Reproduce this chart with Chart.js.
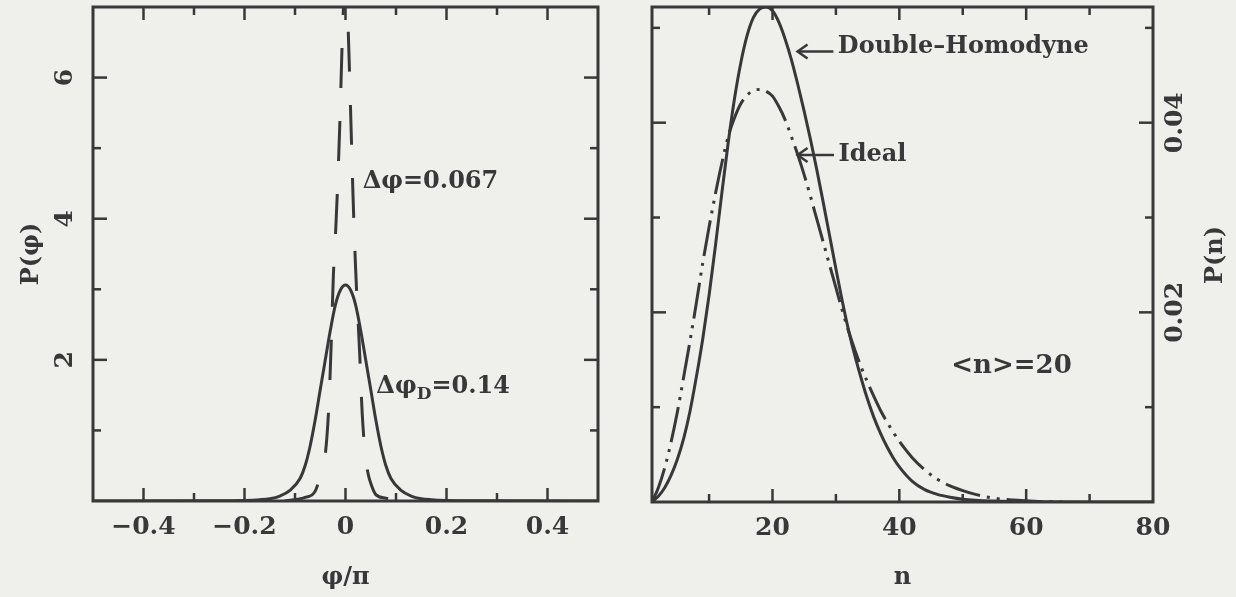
<!DOCTYPE html>
<html>
<head>
<meta charset="utf-8">
<script src="https://cdn.jsdelivr.net/npm/chart.js@4"></script>
<style>
  html, body { margin: 0; padding: 0; background: #efefec; }
  #wrap { position: relative; width: 1236px; height: 597px; overflow: hidden; }
  canvas { position: absolute; top: 0; }
  #left { left: 0; }
  #right { left: 620px; }
</style>
</head>
<body>
<div id="wrap">
  <canvas id="left" width="620" height="597"></canvas>
  <canvas id="right" width="616" height="597"></canvas>
</div>
<script>
// ---- left panel: P(phi) ----
var phiDouble = [-0.5, -0.25, -0.2, -0.17, -0.15, -0.13, -0.11, -0.09, -0.08, -0.07, -0.06, -0.05, -0.04, -0.03, -0.02, -0.01, 0,
                 0.01, 0.02, 0.03, 0.04, 0.05, 0.06, 0.07, 0.08, 0.09, 0.11, 0.13, 0.15, 0.17, 0.2, 0.25, 0.5];
var pPhiDouble = [0, 0.002, 0.008, 0.018, 0.032, 0.07, 0.15, 0.32, 0.5, 0.78, 1.15, 1.58, 2.0, 2.42, 2.78, 2.99, 3.06,
                  2.99, 2.78, 2.42, 2.0, 1.58, 1.15, 0.78, 0.5, 0.32, 0.15, 0.07, 0.032, 0.018, 0.008, 0.002, 0];

var phiIdeal = [-0.12, -0.1, -0.08, -0.06, -0.05, -0.04, -0.033, -0.028, -0.024, -0.02, -0.016, -0.011, -0.007, -0.003, 0,
                0.003, 0.007, 0.011, 0.015, 0.02, 0.028, 0.033, 0.04, 0.045, 0.05, 0.06, 0.08, 0.1, 0.12];
var pPhiIdeal = [0, 0.02, 0.05, 0.14, 0.36, 0.66, 1.35, 2.3, 3.2, 3.75, 4.4, 5.4, 6.4, 7.2, 7.8,
                 7.2, 6.3, 5.3, 4.3, 3.3, 2.1, 1.25, 0.6, 0.38, 0.25, 0.09, 0.04, 0.02, 0];

var phiTicks = [-0.4, -0.2, 0, 0.2, 0.4];
var phiMinor = [-0.3, -0.1, 0.1, 0.3];
var pPhiTicks = [2, 4, 6];
var pPhiMinor = [1, 3, 5];

// ---- right panel: P(n) ----
var nDouble = [1, 2, 3, 4, 5, 6, 7, 8, 9, 10, 11, 12, 13, 14, 15, 16, 17, 18, 19, 20,
               21, 22, 23, 24, 25, 26, 27, 28, 29, 30, 31, 32, 33, 34, 35, 36, 37, 38, 39, 40,
               42, 44, 46, 48, 50, 55, 60, 70, 80];
var pnDouble = [0, 0.0006, 0.0015, 0.0028, 0.0045, 0.0067, 0.0096, 0.0132, 0.0172, 0.0218,
                0.0270, 0.0325, 0.0378, 0.0425, 0.0463, 0.0492, 0.0511, 0.0520, 0.0522, 0.0518,
                0.0506, 0.0488, 0.0466, 0.0440, 0.0412, 0.0382, 0.0350, 0.0316, 0.0281, 0.0246,
                0.0212, 0.0181, 0.0154, 0.0130, 0.0108, 0.0089, 0.0073, 0.0059, 0.0047, 0.0037,
                0.0022, 0.0013, 0.0008, 0.0005, 0.0003, 0.0001, 0.00003, 0, 0];

var nIdeal = [1, 2, 3, 4, 5, 6, 7, 8, 9, 10, 11, 12, 13, 14, 15, 16, 17, 18, 19, 20,
              21, 22, 23, 24, 25, 26, 27, 28, 29, 30, 31, 32, 33, 34, 35, 36, 37, 38, 39, 40,
              42, 44, 46, 48, 50, 52, 55, 58, 62, 66];
var pnIdeal = [0, 0.0015, 0.0036, 0.0063, 0.0095, 0.0132, 0.0170, 0.0210, 0.0252, 0.0290,
               0.0325, 0.0357, 0.0385, 0.0405, 0.0420, 0.0429, 0.0434, 0.0435, 0.0433, 0.0428,
               0.0417, 0.0403, 0.0385, 0.0366, 0.0345, 0.0322, 0.0298, 0.0274, 0.0250, 0.0226,
               0.0202, 0.0180, 0.0160, 0.0142, 0.0126, 0.0111, 0.0097, 0.0085, 0.0074, 0.0064,
               0.0047, 0.0034, 0.0024, 0.0017, 0.0012, 0.0008, 0.0004, 0.0002, 0.00005, 0];

var nTicks = [20, 40, 60, 80];
var nMinor = [10, 30, 50, 70];
var pnTicks = [0.02, 0.04];
var pnMinor = [0.01, 0.03, 0.05];

var ink = '#383838';
var serif = "'DejaVu Serif', serif";
Chart.defaults.font.family = serif;
Chart.defaults.font.weight = 'bold';
Chart.defaults.color = ink;

function pts(xs, ys) {
  return xs.map(function (x, i) { return { x: x, y: ys[i] }; });
}
function fmt(v) {
  return v < 0 ? '\u2212' + String(-v) : String(v);
}
// fixed scale box sizes so the plot frames land where the original ones are
function fit(w, h) {
  return function (s) {
    if (w !== null) s.width = w;
    if (h !== null) s.height = h;
    s.paddingTop = 0; s.paddingBottom = 0; s.paddingLeft = 0; s.paddingRight = 0;
  };
}
function useTicks(vals) {
  return function (s) { s.ticks = vals.map(function (v) { return { value: v }; }); };
}

// frame plus inward ticks on all four sides
var frameTicks = {
  id: 'frameTicks',
  afterDatasetsDraw: function (chart, args, o) {
    var a = chart.chartArea, ctx = chart.ctx;
    var sx = chart.scales.x, sy = chart.scales.y;
    ctx.save();
    ctx.strokeStyle = ink;
    ctx.lineWidth = 3;
    ctx.strokeRect(a.left, a.top, a.right - a.left, a.bottom - a.top);
    ctx.lineWidth = 2.5;
    function seg(x1, y1, x2, y2) { ctx.beginPath(); ctx.moveTo(x1, y1); ctx.lineTo(x2, y2); ctx.stroke(); }
    function xt(vals, len) {
      vals.forEach(function (v) {
        var x = sx.getPixelForValue(v);
        seg(x, a.bottom, x, a.bottom - len);
        seg(x, a.top, x, a.top + len);
      });
    }
    function yt(vals, len) {
      vals.forEach(function (v) {
        var y = sy.getPixelForValue(v);
        seg(a.left, y, a.left + len, y);
        seg(a.right, y, a.right - len, y);
      });
    }
    xt(o.xMajor, 13); xt(o.xMinor, 8);
    yt(o.yMajor, 14); yt(o.yMinor, 8);
    ctx.restore();
  }
};

// text labels and arrows inside the plots
var notes = {
  id: 'notes',
  afterDraw: function (chart, args, o) {
    var ctx = chart.ctx, sx = chart.scales.x, sy = chart.scales.y;
    ctx.save();
    ctx.fillStyle = ink;
    ctx.strokeStyle = ink;
    ctx.textBaseline = 'middle';
    ctx.textAlign = 'left';
    (o.items || []).forEach(function (it) {
      var x = sx.getPixelForValue(it.x), y = sy.getPixelForValue(it.y);
      var main = 'bold ' + it.size + 'px ' + serif;
      ctx.font = main;
      ctx.fillText(it.text, x, y);
      var w = ctx.measureText(it.text).width;
      if (it.sub) {
        ctx.font = 'bold ' + Math.round(it.size * 0.72) + 'px ' + serif;
        ctx.fillText(it.sub, x + w, y + it.size * 0.32);
        w += ctx.measureText(it.sub).width;
        ctx.font = main;
        ctx.fillText(it.rest, x + w, y);
      }
      if (it.arrow) {
        var x1 = sx.getPixelForValue(it.arrow[0]), x2 = sx.getPixelForValue(it.arrow[1]);
        var ya = sy.getPixelForValue(it.arrow[2]);
        ctx.lineWidth = 2.5;
        ctx.beginPath(); ctx.moveTo(x1, ya); ctx.lineTo(x2, ya); ctx.stroke();
        ctx.beginPath();
        ctx.moveTo(x2 + 10, ya - 7); ctx.lineTo(x2, ya); ctx.lineTo(x2 + 10, ya + 7);
        ctx.stroke();
      }
    });
    if (o.side) {
      ctx.font = 'bold 24px ' + serif;
      ctx.textAlign = 'center';
      ctx.translate(o.side.x, o.side.y);
      ctx.rotate(-Math.PI / 2);
      ctx.fillText(o.side.text, 0, 0);
    }
    ctx.restore();
  }
};

var noGrid = { display: false, drawTicks: false };

new Chart(document.getElementById('left'), {
  type: 'scatter',
  data: {
    datasets: [
      { label: 'Double-Homodyne', data: pts(phiDouble, pPhiDouble), showLine: true, borderColor: ink,
        borderWidth: 3, pointRadius: 0, cubicInterpolationMode: 'monotone' },
      { label: 'Ideal', data: pts(phiIdeal, pPhiIdeal), showLine: true, borderColor: ink,
        borderWidth: 3, borderDash: [40, 33], pointRadius: 0, cubicInterpolationMode: 'monotone' }
    ]
  },
  options: {
    responsive: false,
    animation: false,
    layout: { padding: { top: 7, right: 22, left: 0, bottom: 0 } },
    plugins: {
      legend: { display: false },
      tooltip: { enabled: false },
      frameTicks: { xMajor: phiTicks, xMinor: phiMinor, yMajor: pPhiTicks, yMinor: pPhiMinor },
      notes: {
        items: [
          { text: '\u0394\u03c6=0.067', x: 0.034, y: 4.53, size: 24 },
          { text: '\u0394\u03c6', sub: 'D', rest: '=0.14', x: 0.061, y: 1.62, size: 24 }
        ]
      }
    },
    scales: {
      x: {
        type: 'linear', min: -0.5, max: 0.5,
        grid: noGrid, border: { display: false },
        afterBuildTicks: useTicks(phiTicks),
        afterFit: fit(null, 96),
        ticks: { callback: fmt, padding: 11, font: { size: 25 }, autoSkip: false, minRotation: 0, maxRotation: 0 },
        title: { display: true, text: '\u03c6/\u03c0', font: { size: 24 }, padding: { top: 0, bottom: 5 } }
      },
      y: {
        type: 'linear', min: 0, max: 7,
        grid: noGrid, border: { display: false },
        afterBuildTicks: useTicks(pPhiTicks),
        afterFit: fit(93, null),
        ticks: { callback: fmt, padding: 19, font: { size: 25 }, autoSkip: false,
                 minRotation: 90, maxRotation: 90, crossAlign: 'center' },
        title: { display: true, text: 'P(\u03c6)', font: { size: 24 }, padding: { top: 17, bottom: 0 } }
      }
    }
  },
  plugins: [frameTicks, notes]
});

new Chart(document.getElementById('right'), {
  type: 'scatter',
  data: {
    datasets: [
      { label: 'Double-Homodyne', data: pts(nDouble, pnDouble), showLine: true, borderColor: ink,
        borderWidth: 3, pointRadius: 0, cubicInterpolationMode: 'monotone' },
      { label: 'Ideal', data: pts(nIdeal, pnIdeal), showLine: true, borderColor: ink,
        borderWidth: 3, borderDash: [36, 7, 3, 7, 3, 7], pointRadius: 0, cubicInterpolationMode: 'monotone' }
    ]
  },
  options: {
    responsive: false,
    animation: false,
    layout: { padding: { top: 7, right: 0, left: 32, bottom: 0 } },
    plugins: {
      legend: { display: false },
      tooltip: { enabled: false },
      frameTicks: { xMajor: [20, 40, 60], xMinor: nMinor, yMajor: pnTicks, yMinor: pnMinor },
      notes: {
        items: [
          { text: 'Double\u2013Homodyne', x: 30.3, y: 0.048, size: 24, arrow: [29.6, 23.95, 0.0475] },
          { text: 'Ideal', x: 30.4, y: 0.0366, size: 24, arrow: [29.7, 23.95, 0.0366] },
          { text: '<n>=20', x: 48.2, y: 0.01435, size: 26 }
        ],
        side: { text: 'P(n)', x: 596, y: 255 }
      }
    },
    scales: {
      x: {
        type: 'linear', min: 1, max: 80,
        grid: noGrid, border: { display: false },
        afterBuildTicks: useTicks(nTicks),
        afterFit: fit(null, 95),
        ticks: { callback: fmt, padding: 11, font: { size: 25 }, autoSkip: false, minRotation: 0, maxRotation: 0 },
        title: { display: true, text: 'n', font: { size: 24 }, padding: { top: 0, bottom: 5 } }
      },
      y: {
        type: 'linear', position: 'right', min: 0, max: 0.0522,
        grid: noGrid, border: { display: false },
        afterBuildTicks: useTicks(pnTicks),
        afterFit: fit(83, null),
        ticks: { callback: fmt, padding: -8, font: { size: 25 }, autoSkip: false,
                 minRotation: 90, maxRotation: 90, crossAlign: 'center' }
      }
    }
  },
  plugins: [frameTicks, notes]
});
</script>
</body>
</html>
